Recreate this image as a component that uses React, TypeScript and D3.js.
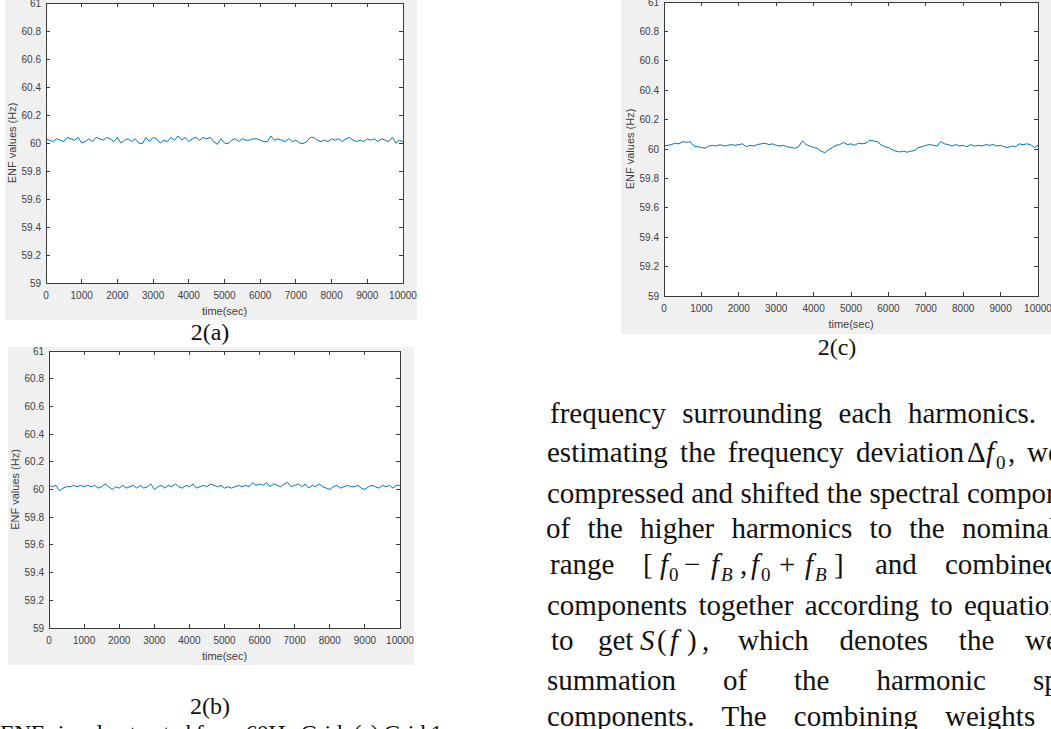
import * as d3 from 'd3';

/* ── data: ENF readings every 100 s ── */
const TIMES = d3.range(0, 10001, 100);
const X_TICKS = [0, 1000, 2000, 3000, 4000, 5000, 6000, 7000, 8000, 9000, 10000];
const Y_TICKS = [59, 59.2, 59.4, 59.6, 59.8, 60, 60.2, 60.4, 60.6, 60.8, 61];

const ENF_A = [
  60.03, 60.02, 60.01, 60.03, 60.02, 60.01, 60.04, 60.03, 60.02, 60.04,
  60.0, 60.01, 60.03, 60.01, 60.04, 60.03, 60.02, 60.04, 60.03, 60.01,
  60.04, 60.0, 60.02, 60.03, 60.01, 60.03, 60.0, 59.995, 60.04, 60.01,
  60.04, 60.03, 60.0, 60.02, 60.01, 60.04, 60.02, 60.05, 60.02, 60.04,
  60.01, 60.03, 60.04, 60.02, 60.04, 60.03, 60.04, 60.01, 59.99, 60.03,
  60.0, 59.995, 60.02, 60.03, 60.01, 60.03, 60.02, 60.02, 60.03, 60.03,
  60.02, 60.01, 60.01, 60.05, 60.02, 60.03, 60.02, 60.01, 60.03, 60.01,
  60.02, 60.0, 59.995, 60.01, 60.04, 60.04, 60.02, 60.01, 60.02, 60.01,
  60.03, 60.02, 60.03, 60.01, 60.03, 60.04, 60.02, 60.01, 60.02, 60.01,
  60.03, 60.02, 60.03, 60.01, 60.03, 60.02, 60.01, 60.04, 60.0, 60.02,
  60.01,
];

const ENF_B = [
  60.03, 60.02, 60.03, 59.99, 60.01, 60.02, 60.02, 60.03, 60.02, 60.03,
  60.02, 60.03, 60.02, 60.03, 60.01, 60.02, 60.04, 60.02, 60.0, 60.02,
  60.01, 60.03, 60.01, 60.02, 60.03, 60.01, 60.03, 60.01, 60.02, 60.04,
  60.0, 60.02, 60.03, 60.01, 60.03, 60.02, 60.04, 60.02, 60.01, 60.03,
  60.02, 60.04, 60.01, 60.02, 60.03, 60.02, 60.04, 60.03, 60.02, 60.03,
  60.01, 60.02, 60.01, 60.02, 60.03, 60.02, 60.03, 60.02, 60.05, 60.03,
  60.04, 60.03, 60.05, 60.02, 60.04, 60.03, 60.02, 60.04, 60.05, 60.02,
  60.03, 60.04, 60.02, 60.04, 60.01, 60.03, 60.02, 60.04, 60.02, 60.01,
  60.0, 60.02, 60.03, 60.01, 60.02, 60.03, 60.02, 60.02, 60.03, 60.01,
  60.0, 60.02, 60.03, 60.02, 60.01, 60.03, 60.02, 60.03, 60.01, 60.03,
  60.03,
];

const ENF_C = [
  60.02, 60.025, 60.03, 60.04, 60.035, 60.05, 60.045, 60.05, 60.02, 60.015,
  60.01, 60.005, 60.02, 60.025, 60.02, 60.03, 60.02, 60.025, 60.03, 60.025,
  60.03, 60.035, 60.015, 60.025, 60.02, 60.03, 60.035, 60.04, 60.03, 60.035,
  60.025, 60.02, 60.025, 60.015, 60.01, 60.005, 60.015, 60.055, 60.03, 60.02,
  60.01, 60.005, 59.985, 59.975, 59.995, 60.01, 60.025, 60.03, 60.045, 60.03,
  60.035, 60.025, 60.04, 60.035, 60.04, 60.06, 60.055, 60.05, 60.03, 60.015,
  60.01, 59.995, 59.985, 59.98, 59.985, 59.978, 59.985, 59.99, 60.01, 60.015,
  60.025, 60.03, 60.025, 60.02, 60.05, 60.035, 60.03, 60.02, 60.03, 60.02,
  60.025, 60.015, 60.03, 60.02, 60.025, 60.02, 60.03, 60.025, 60.03, 60.02,
  60.025, 60.015, 60.01, 60.02, 60.015, 60.035, 60.03, 60.035, 60.03, 60.01,
  60.025,
];

const AXIS = '#3a3a3a';
const LABEL = '#404040';
const TRACE = '#0072BD';
const SANS = "'Liberation Sans', Arial, sans-serif";
const SERIF = "'Liberation Serif', 'Times New Roman', serif";
const BODY_SIZE = 29;

type Box = { x0: number; x1: number; y0: number; y1: number };

/* ═══ one MATLAB-style figure ═══ */
function EnfPanel({ frame, plot, values }: { frame: Box; plot: Box; values: number[] }) {
  const x = d3.scaleLinear().domain([0, 10000]).range([plot.x0, plot.x1]);
  const y = d3.scaleLinear().domain([59, 61]).range([plot.y1, plot.y0]);
  const line = d3.line<number>().x((_, i) => x(TIMES[i])).y(d => y(d));
  const tk = 4;
  const cy = (plot.y0 + plot.y1) / 2;
  return (
    <g>
      <rect x={frame.x0} y={frame.y0} width={frame.x1 - frame.x0} height={frame.y1 - frame.y0} fill="#f0f0f0" />
      <rect x={plot.x0} y={plot.y0} width={plot.x1 - plot.x0} height={plot.y1 - plot.y0} fill="#fff" />
      <path d={line(values) || ''} fill="none" stroke={TRACE} strokeWidth={1} strokeLinejoin="round" />
      <g stroke={AXIS} strokeWidth={1} shapeRendering="crispEdges">
        <rect x={plot.x0} y={plot.y0} width={plot.x1 - plot.x0} height={plot.y1 - plot.y0} fill="none" />
        {X_TICKS.map(t => (
          <g key={t}>
            <line x1={x(t)} x2={x(t)} y1={plot.y1} y2={plot.y1 - tk} />
            <line x1={x(t)} x2={x(t)} y1={plot.y0} y2={plot.y0 + tk} />
          </g>
        ))}
        {Y_TICKS.map(t => (
          <g key={t}>
            <line x1={plot.x0} x2={plot.x0 + tk} y1={y(t)} y2={y(t)} />
            <line x1={plot.x1} x2={plot.x1 - tk} y1={y(t)} y2={y(t)} />
          </g>
        ))}
      </g>
      <g fontFamily={SANS} fontSize={10} fill={LABEL}>
        {X_TICKS.map(t => (
          <text key={t} x={x(t)} y={plot.y1 + 16} textAnchor="middle">{t}</text>
        ))}
        {Y_TICKS.map(t => (
          <text key={t} x={plot.x0 - 5} y={y(t) + 3.5} textAnchor="end">{d3.format('~g')(t)}</text>
        ))}
      </g>
      <g fontFamily={SANS} fontSize={11} fill={LABEL} textAnchor="middle">
        <text x={(plot.x0 + plot.x1) / 2} y={plot.y1 + 32}>time(sec)</text>
        <text transform={`translate(${plot.x0 - 30},${cy}) rotate(-90)`}>ENF values (Hz)</text>
      </g>
    </g>
  );
}

/* ── justified body text: words spread so a given word lands where the page has it ── */
const measureCtx = document.createElement('canvas').getContext('2d');
function textWidth(s: string) {
  if (!measureCtx) return s.length * BODY_SIZE * 0.45;
  measureCtx.font = `${BODY_SIZE}px 'Liberation Serif'`;
  return measureCtx.measureText(s).width;
}

type Run = { y: number; x0: number; words: string[]; anchor: [number, number] };
const BODY: Run[] = [
  { y: 422.5, x0: 550, words: ['frequency', 'surrounding', 'each', 'harmonics.', 'After'], anchor: [3, 908] },
  { y: 461.5, x0: 547, words: ['estimating', 'the', 'frequency', 'deviation'], anchor: [3, 856] },
  { y: 502.5, x0: 547, words: ['compressed', 'and', 'shifted', 'the', 'spectral', 'components'], anchor: [5, 967] },
  { y: 537.5, x0: 546, words: ['of', 'the', 'higher', 'harmonics', 'to', 'the', 'nominal'], anchor: [6, 962] },
  { y: 574, x0: 550, words: ['range'], anchor: [0, 550] },
  { y: 574, x0: 875, words: ['and', 'combined'], anchor: [1, 945] },
  { y: 614.5, x0: 547, words: ['components', 'together', 'according', 'to', 'equation'], anchor: [4, 964] },
  { y: 649.5, x0: 551, words: ['to', 'get'], anchor: [1, 598] },
  { y: 649.5, x0: 738, words: ['which', 'denotes', 'the', 'weighted'], anchor: [3, 1025] },
  { y: 689.5, x0: 547, words: ['summation', 'of', 'the', 'harmonic', 'spectral'], anchor: [4, 1033] },
  { y: 726, x0: 547, words: ['components.', 'The', 'combining', 'weights', 'are'], anchor: [3, 945] },
];

function layoutRun(r: Run) {
  const ws = r.words.map(textWidth);
  const [ai, ax] = r.anchor;
  const before = ws.slice(0, ai).reduce((a, b) => a + b, 0);
  const gap = ai > 0 ? (ax - r.x0 - before) / ai : 8;
  let x = r.x0;
  return r.words.map((w, i) => {
    const p = x;
    x += ws[i] + gap;
    return { x: p, w };
  });
}

export default function App() {
  const sub = 7;
  const subSize = 19;
  return (
    <svg width={1051} height={729} style={{ position: 'absolute', left: 0, top: 0, background: '#fff' }}>
      <EnfPanel frame={{ x0: 5, x1: 417, y0: -20, y1: 320 }} plot={{ x0: 46, x1: 403, y0: 3, y1: 283 }} values={ENF_A} />
      <EnfPanel frame={{ x0: 8, x1: 414, y0: 347, y1: 665 }} plot={{ x0: 49, x1: 400, y0: 351, y1: 628 }} values={ENF_B} />
      <EnfPanel frame={{ x0: 621, x1: 1060, y0: -20, y1: 334 }} plot={{ x0: 664, x1: 1038, y0: 2, y1: 296 }} values={ENF_C} />

      <g fontFamily={SERIF} fontSize={24} fill="#111" textAnchor="middle">
        <text x={210} y={340}>2(a)</text>
        <text x={210} y={714}>2(b)</text>
        <text x={837} y={355}>2(c)</text>
      </g>
      <text x={0} y={741} fontFamily={SERIF} fontSize={24} fill="#111" textLength={448} lengthAdjust="spacing">
        ENF signal extracted from 60Hz Grid: (a) Grid 1,
      </text>

      <g fontFamily={SERIF} fontSize={BODY_SIZE} fill="#111">
        {BODY.map((r, i) => (
          <g key={i}>
            {layoutRun(r).map(({ x, w }) => (
              <text key={x} x={x} y={r.y}>{w}</text>
            ))}
          </g>
        ))}
        {/* Δf0 , we */}
        <text x={967} y={461.5}>Δ</text>
        <text x={986} y={461.5} fontStyle="italic">f</text>
        <text x={996} y={461.5 + sub} fontSize={subSize}>0</text>
        <text x={1008} y={461.5}>,</text>
        <text x={1027} y={461.5}>we</text>
        {/* [ f0 − fB , f0 + fB ] */}
        <text x={643} y={574}>[</text>
        <text x={660} y={574} fontStyle="italic">f</text>
        <text x={669} y={574 + sub} fontSize={subSize}>0</text>
        <text x={684} y={574}>−</text>
        <text x={711} y={574} fontStyle="italic">f</text>
        <text x={721} y={574 + sub} fontSize={subSize} fontStyle="italic">B</text>
        <text x={740} y={574}>,</text>
        <text x={751} y={574} fontStyle="italic">f</text>
        <text x={761} y={574 + sub} fontSize={subSize}>0</text>
        <text x={779} y={574}>+</text>
        <text x={805} y={574} fontStyle="italic">f</text>
        <text x={815} y={574 + sub} fontSize={subSize} fontStyle="italic">B</text>
        <text x={834} y={574}>]</text>
        {/* S(f) , */}
        <text x={640} y={649.5} fontStyle="italic">S</text>
        <text x={657} y={649.5}>(</text>
        <text x={670} y={649.5} fontStyle="italic">f</text>
        <text x={687} y={649.5}>)</text>
        <text x={702} y={649.5}>,</text>
      </g>
    </svg>
  );
}
